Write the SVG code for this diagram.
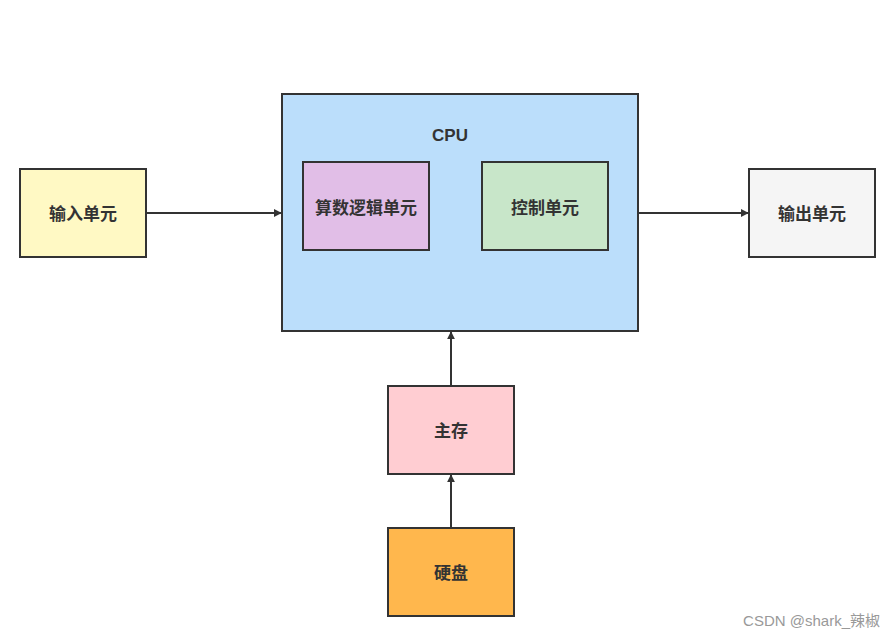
<svg xmlns="http://www.w3.org/2000/svg" width="895" height="639" viewBox="0 0 895 639">
<style>
.b{stroke:#333;stroke-width:2}
.t{font-family:"Liberation Sans","Noto Sans CJK SC",sans-serif;font-size:17px;font-weight:bold;fill:#333;text-anchor:middle;dominant-baseline:central}
.c{stroke:#333;stroke-width:2;fill:none;marker-end:url(#a)}
</style>
<defs><marker id="a" viewBox="0 0 10 10" refX="9" refY="5" markerWidth="8" markerHeight="8" markerUnits="userSpaceOnUse" orient="auto"><path d="M0,0L10,5L0,10Z" fill="#333"/></marker></defs>
<rect width="895" height="639" fill="#fff"/>
<g id="cpu"><rect class="b" x="282" y="94" width="356" height="237" fill="#bbdefb"/><text class="t" x="450" y="135">CPU</text></g>
<g id="alu"><rect class="b" x="303" y="162" width="126" height="88" fill="#e1bee7"/><text class="t" x="366" y="208">算数逻辑单元</text></g>
<g id="ctrl"><rect class="b" x="482" y="162" width="126" height="88" fill="#c8e6c9"/><text class="t" x="545" y="208">控制单元</text></g>
<g id="input"><rect class="b" x="20" y="169" width="126" height="88" fill="#fff9c4"/><text class="t" x="83" y="214">输入单元</text></g>
<g id="output"><rect class="b" x="749" y="169" width="126" height="88" fill="#f5f5f5"/><text class="t" x="812" y="214">输出单元</text></g>
<g id="mem"><rect class="b" x="388" y="386" width="126" height="88" fill="#ffcdd2"/><text class="t" x="451" y="431">主存</text></g>
<g id="disk"><rect class="b" x="388" y="528" width="126" height="88" fill="#ffb74d"/><text class="t" x="451" y="573">硬盘</text></g>
<g id="connectors">
<path class="c" d="M146,213H281"/>
<path class="c" d="M638,213H748"/>
<path class="c" d="M451,386V332"/>
<path class="c" d="M451,528V475"/>
</g>
<text x="880" y="626" font-family="Liberation Sans,'Noto Sans CJK SC',sans-serif" font-size="15" fill="#999" text-anchor="end">CSDN @shark_辣椒</text>
</svg>
